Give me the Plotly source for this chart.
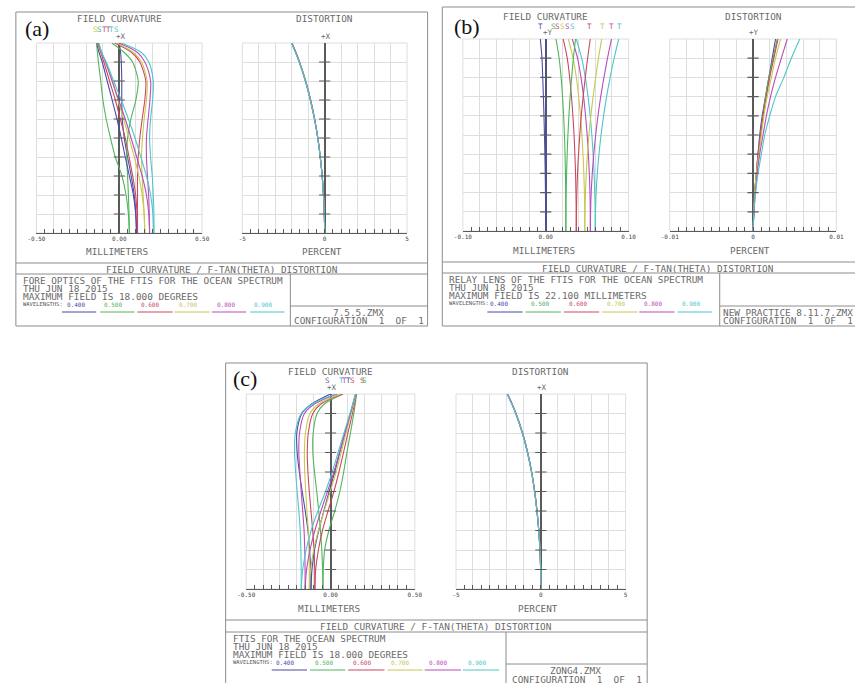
import plotly.graph_objects as go

W, H = 863, 683

WAVELENGTHS = ["0.400", "0.500", "0.600", "0.700", "0.800", "0.900"]
COLORS = ["#4b4ba8", "#4fb55a", "#c9485e", "#c8c850", "#b94db9", "#4cc6cc"]

# ---------------- panel (a) : fore optics (mm, field normalised 0..1) --------------
FIELD_A = [0.0, 0.1, 0.2, 0.3, 0.4, 0.5, 0.6, 0.7, 0.8, 0.9, 0.95, 1.0]
A_SAG = [
    [0.105, 0.100, 0.090, 0.072, 0.050, 0.030, 0.018, 0.015, 0.015, 0.012, 0.008, 0.000],
    [0.061, 0.059, 0.055, 0.050, 0.045, 0.050, 0.070, 0.100, 0.114, 0.080, 0.030, -0.045],
    [0.110, 0.110, 0.110, 0.110, 0.114, 0.124, 0.138, 0.154, 0.160, 0.124, 0.075, -0.028],
    [0.154, 0.150, 0.144, 0.138, 0.134, 0.140, 0.150, 0.164, 0.168, 0.134, 0.085, -0.014],
    [0.183, 0.181, 0.177, 0.170, 0.164, 0.164, 0.174, 0.185, 0.189, 0.154, 0.110, 0.000],
    [0.209, 0.209, 0.205, 0.199, 0.189, 0.183, 0.189, 0.201, 0.205, 0.178, 0.134, 0.012],
]
A_TAN = [
    [0.105, 0.099, 0.085, 0.061, 0.036, 0.012, -0.014, -0.043, -0.073, -0.103, -0.122, -0.138],
    [0.061, 0.055, 0.041, 0.016, -0.024, -0.053, -0.079, -0.099, -0.112, -0.126, -0.132, -0.138],
    [0.110, 0.107, 0.099, 0.081, 0.059, 0.036, 0.006, -0.024, -0.059, -0.093, -0.112, -0.132],
    [0.154, 0.150, 0.138, 0.118, 0.091, 0.059, 0.026, -0.008, -0.043, -0.083, -0.107, -0.126],
    [0.183, 0.178, 0.164, 0.138, 0.105, 0.071, 0.036, -0.004, -0.043, -0.083, -0.107, -0.126],
    [0.209, 0.203, 0.189, 0.164, 0.130, 0.095, 0.055, 0.012, -0.034, -0.079, -0.107, -0.122],
]
A_DIST = [
    [0.0, -0.02, -0.07, -0.15, -0.27, -0.42, -0.62, -0.87, -1.17, -1.55, -1.77, -2.02],
    [0.0, -0.02, -0.07, -0.15, -0.27, -0.42, -0.62, -0.87, -1.17, -1.54, -1.76, -2.01],
    [0.0, -0.02, -0.07, -0.15, -0.27, -0.42, -0.62, -0.86, -1.16, -1.54, -1.76, -2.00],
    [0.0, -0.02, -0.07, -0.15, -0.27, -0.42, -0.61, -0.86, -1.16, -1.53, -1.75, -2.00],
    [0.0, -0.02, -0.07, -0.15, -0.27, -0.41, -0.61, -0.86, -1.16, -1.53, -1.75, -1.99],
    [0.0, -0.02, -0.07, -0.15, -0.26, -0.41, -0.61, -0.85, -1.15, -1.53, -1.74, -1.99],
]

# ---------------- panel (b) : relay lens -------------------------------------------
FIELD_B = [0.0, 0.1, 0.2, 0.3, 0.4, 0.5, 0.6, 0.7, 0.8, 0.9, 1.0]
B_SAG = [
    [0.0003, 0.0003, 0.0003, 0.0003, 0.0003, 0.0003, 0.0003, 0.0003, 0.0003, 0.0003, 0.0003],
    [0.0243, 0.0243, 0.0241, 0.0238, 0.0233, 0.0226, 0.0216, 0.0203, 0.0186, 0.0162, 0.0124],
    [0.0369, 0.0368, 0.0365, 0.0360, 0.0352, 0.0342, 0.0328, 0.0311, 0.0289, 0.0260, 0.0211],
    [0.0472, 0.0471, 0.0467, 0.0460, 0.0450, 0.0437, 0.0420, 0.0398, 0.0370, 0.0330, 0.0274],
    [0.0539, 0.0538, 0.0534, 0.0526, 0.0515, 0.0500, 0.0481, 0.0457, 0.0426, 0.0384, 0.0321],
    [0.0598, 0.0597, 0.0592, 0.0584, 0.0572, 0.0557, 0.0537, 0.0511, 0.0478, 0.0434, 0.0369],
]
B_TAN = [
    [0.0000, -0.0001, -0.0003, -0.0006, -0.0010, -0.0015, -0.0021, -0.0028, -0.0036, -0.0045, -0.0065],
    [0.0243, 0.0244, 0.0247, 0.0252, 0.0259, 0.0268, 0.0280, 0.0295, 0.0313, 0.0334, 0.0360],
    [0.0369, 0.0371, 0.0376, 0.0384, 0.0396, 0.0411, 0.0429, 0.0452, 0.0478, 0.0506, 0.0538],
    [0.0472, 0.0474, 0.0480, 0.0490, 0.0504, 0.0522, 0.0545, 0.0572, 0.0603, 0.0637, 0.0676],
    [0.0539, 0.0542, 0.0549, 0.0562, 0.0580, 0.0603, 0.0631, 0.0664, 0.0703, 0.0746, 0.0794],
    [0.0598, 0.0601, 0.0609, 0.0623, 0.0643, 0.0668, 0.0699, 0.0735, 0.0778, 0.0826, 0.0881],
]
B_DIST = [
    [0.0, 0.0001, 0.0003, 0.0006, 0.0010, 0.0014, 0.0020, 0.0027, 0.0037, 0.0046, 0.0056],
    [0.0, 0.0001, 0.0003, 0.0005, 0.0008, 0.0012, 0.0016, 0.0021, 0.0027, 0.0034, 0.0041],
    [0.0, 0.0001, 0.0002, 0.0004, 0.0007, 0.0010, 0.0013, 0.0017, 0.0022, 0.0027, 0.0033],
    [0.0, 0.0001, 0.0002, 0.0004, 0.0006, 0.0009, 0.0012, 0.0016, 0.0020, 0.0025, 0.0030],
    [0.0, 0.0001, 0.0002, 0.0004, 0.0006, 0.0009, 0.0012, 0.0015, 0.0019, 0.0024, 0.0029],
    [0.0, 0.0001, 0.0002, 0.0004, 0.0006, 0.0008, 0.0011, 0.0015, 0.0019, 0.0023, 0.0027],
]

# ---------------- panel (c) : whole system -----------------------------------------
FIELD_C = [0.0, 0.1, 0.2, 0.3, 0.4, 0.5, 0.6, 0.7, 0.8, 0.9, 0.95, 1.0]
C_SAG = [
    [-0.116, -0.118, -0.124, -0.134, -0.150, -0.168, -0.185, -0.198, -0.200, -0.170, -0.110, 0.000],
    [-0.045, -0.047, -0.052, -0.060, -0.070, -0.082, -0.095, -0.105, -0.103, -0.080, -0.035, 0.075],
    [-0.093, -0.094, -0.098, -0.106, -0.116, -0.126, -0.134, -0.138, -0.132, -0.105, -0.055, 0.070],
    [-0.126, -0.126, -0.128, -0.132, -0.140, -0.147, -0.153, -0.155, -0.149, -0.122, -0.068, 0.060],
    [-0.151, -0.151, -0.153, -0.157, -0.165, -0.174, -0.182, -0.188, -0.184, -0.155, -0.093, 0.040],
    [-0.174, -0.174, -0.176, -0.180, -0.188, -0.198, -0.207, -0.213, -0.209, -0.174, -0.107, 0.030],
]
C_TAN = [
    [-0.116, -0.110, -0.095, -0.070, -0.040, -0.008, 0.025, 0.055, 0.085, 0.118, 0.133, 0.148],
    [-0.045, -0.043, -0.035, -0.010, 0.025, 0.055, 0.078, 0.097, 0.118, 0.138, 0.147, 0.155],
    [-0.093, -0.088, -0.072, -0.048, -0.015, 0.020, 0.050, 0.077, 0.103, 0.130, 0.142, 0.153],
    [-0.126, -0.118, -0.100, -0.072, -0.038, -0.002, 0.033, 0.063, 0.092, 0.122, 0.137, 0.152],
    [-0.151, -0.142, -0.122, -0.093, -0.057, -0.018, 0.020, 0.053, 0.085, 0.118, 0.134, 0.150],
    [-0.174, -0.165, -0.145, -0.115, -0.075, -0.030, 0.010, 0.045, 0.080, 0.115, 0.132, 0.148],
]
C_DIST = [
    [0.0, -0.01, -0.05, -0.12, -0.23, -0.37, -0.55, -0.79, -1.09, -1.48, -1.72, -1.99],
    [0.0, -0.01, -0.05, -0.12, -0.23, -0.37, -0.55, -0.79, -1.09, -1.48, -1.71, -1.98],
    [0.0, -0.01, -0.05, -0.12, -0.23, -0.37, -0.55, -0.78, -1.08, -1.47, -1.71, -1.98],
    [0.0, -0.01, -0.05, -0.12, -0.23, -0.36, -0.54, -0.78, -1.08, -1.47, -1.70, -1.97],
    [0.0, -0.01, -0.05, -0.12, -0.22, -0.36, -0.54, -0.78, -1.08, -1.47, -1.70, -1.97],
    [0.0, -0.01, -0.05, -0.12, -0.22, -0.36, -0.54, -0.77, -1.07, -1.46, -1.70, -1.96],
]

AXIS_TICK_FIELDS = [0.1, 0.2, 0.3, 0.4, 0.5, 0.6, 0.7, 0.8, 0.9]

MONO = "DejaVu Sans Mono"
TXT = "#6a6a6a"
AX = "#5a5a5a"
GRID = "#dedede"
FRAME = "#8c8c8c"

fig = go.Figure()
state = {"n": 0}


def X(px):
    return px / W


def Y(py):
    return 1 - py / H


def add_axes(x0, x1, y0, y1, xmax, major, minor, labels):
    state["n"] += 1
    n = state["n"]
    sfx = "" if n == 1 else str(n)
    nmaj = round(2 * xmax / major)
    tickvals = [-xmax + i * major for i in range(nmaj + 1)]
    ticktext = [""] * (nmaj + 1)
    ticktext[0], ticktext[nmaj // 2], ticktext[-1] = labels
    nmin = round(2 * xmax / minor)
    minorvals = [-xmax + i * minor for i in range(nmin + 1)]
    fig.update_layout(**{
        "xaxis" + sfx: dict(
            domain=[X(x0), X(x1)], anchor="y" + sfx, range=[-xmax, xmax],
            tickmode="array", tickvals=tickvals, ticktext=ticktext,
            ticks="inside", ticklen=4, tickwidth=1, tickcolor=AX,
            showgrid=True, gridcolor=GRID, gridwidth=1,
            zeroline=True, zerolinecolor=AX, zerolinewidth=1.6,
            showline=True, linecolor=AX, linewidth=1.2,
            tickfont=dict(family=MONO, size=6, color="#444"),
            minor=dict(tickmode="array", tickvals=minorvals, ticks="inside",
                       ticklen=4, tickwidth=1, tickcolor=AX, showgrid=False),
            fixedrange=True),
        "yaxis" + sfx: dict(
            domain=[Y(y1), Y(y0)], anchor="x" + sfx, range=[0, 1],
            tickmode="linear", tick0=0, dtick=0.1, showgrid=True,
            gridcolor=GRID, gridwidth=1, showticklabels=False, ticks="",
            zeroline=False, showline=False, fixedrange=True),
    })
    fig.add_shape(type="rect", xref="x" + sfx + " domain", yref="y" + sfx + " domain",
                  x0=0, x1=1, y0=0, y1=1, line=dict(color=GRID, width=1), layer="below")
    return "x" + sfx, "y" + sfx


def add_curves(xa, ya, field, series_list):
    for series in series_list:
        for vals, col in zip(series, COLORS):
            fig.add_trace(go.Scatter(
                x=vals, y=field, mode="lines", xaxis=xa, yaxis=ya,
                line=dict(color=col, width=1.1, shape="spline", smoothing=0.8),
                hoverinfo="skip", showlegend=False))


def add_axis_ticks(xa, ya):
    fig.add_trace(go.Scatter(
        x=[0] * len(AXIS_TICK_FIELDS), y=AXIS_TICK_FIELDS, mode="markers",
        xaxis=xa, yaxis=ya,
        marker=dict(symbol="line-ew", size=8, line=dict(width=1.2, color=AX)),
        hoverinfo="skip", showlegend=False))


def txt(s, x, y, size=9.4, color=TXT, xanchor="center", family=MONO):
    fig.add_annotation(text=s, x=X(x), y=Y(y), xref="paper", yref="paper",
                       xanchor=xanchor, yanchor="middle", showarrow=False,
                       borderpad=0,
                       font=dict(family=family, size=size, color=color))


def hline(x0, x1, y, color=FRAME, width=1):
    fig.add_shape(type="line", xref="paper", yref="paper",
                  x0=X(x0), x1=X(x1), y0=Y(y), y1=Y(y),
                  line=dict(color=color, width=width))


def vline(x, y0, y1, color=FRAME, width=1):
    fig.add_shape(type="line", xref="paper", yref="paper",
                  x0=X(x), x1=X(x), y0=Y(y0), y1=Y(y1),
                  line=dict(color=color, width=width))


def panel(frame, fc, di, fc_max, fc_major, fc_minor, fc_labels,
          di_max, di_major, di_minor, di_labels, field, sag, tan, dist,
          axis_name, unit_y, title_y, bar, info, info_y, wl_xc, wl_line,
          wl_line_y, divider_x, box_y, zmx, zmx_x, zmx_anchor, letter, letter_xy,
          legend, legend_y):
    fl, ft, fr, fb = frame
    hline(fl, fr, ft)
    vline(fl, ft, fb)
    if fr < W - 1:
        vline(fr, ft, fb)
    if fb < H - 1:
        hline(fl, fr, fb)
    hline(fl, fr, bar[0])
    hline(fl, fr, bar[1])
    vline(divider_x, bar[1], fb)
    hline(divider_x, fr, box_y)

    xa, ya = add_axes(*fc, fc_max, fc_major, fc_minor, fc_labels)
    add_curves(xa, ya, field, [sag, tan])
    add_axis_ticks(xa, ya)
    xb, yb = add_axes(*di, di_max, di_major, di_minor, di_labels)
    add_curves(xb, yb, field, [list(reversed(dist))])
    add_axis_ticks(xb, yb)

    cfc = (fc[0] + fc[1]) / 2
    cdi = (di[0] + di[1]) / 2
    txt("FIELD CURVATURE", cfc, title_y)
    txt("DISTORTION", cdi, title_y)
    txt("+" + axis_name, cfc + 2, fc[2] - 7, size=7.5)
    txt("+" + axis_name, cdi + 1, di[2] - 7, size=7.5)
    txt("MILLIMETERS", cfc - 2, unit_y)
    txt("PERCENT", cdi - 3, unit_y)
    for s, lx, col in legend:
        txt(s, lx, legend_y, size=7.5, color=col)

    txt("FIELD CURVATURE / F-TAN(THETA) DISTORTION", (fl + fr) / 2 + bar[2],
        (bar[0] + bar[1]) / 2 + 0.5)
    for i, line in enumerate(info):
        txt(line, fl + 6, info_y[i], xanchor="left")
    txt("WAVELENGTHS:", fl + 6, info_y[3], size=5.5, color="#555", xanchor="left")
    for lab, xc, (lx0, lx1), col in zip(WAVELENGTHS, wl_xc, wl_line, COLORS):
        txt(lab, xc, info_y[3], size=6, color=col)
        hline(lx0, lx1, wl_line_y, color=col, width=1)
    txt(zmx, zmx_x, box_y + 6.5, xanchor=zmx_anchor)
    txt("CONFIGURATION  1  OF  1", zmx_x if zmx_anchor == "left" else (divider_x + fr) / 2,
        box_y + 15, xanchor=zmx_anchor)
    txt(letter, letter_xy[0], letter_xy[1], size=22, color="#111",
        family="Liberation Serif")


# (a)
panel((7, 12, 427, 326), (28, 197, 43, 233), (238, 406, 43, 233),
      0.5, 0.1, 0.05, ["-0.50", "0.00", "0.50"], 5, 1, 0.5, ["-5", "0", "5"],
      FIELD_A, A_SAG, A_TAN, A_DIST, "X", 251, 19, (263, 274, 0),
      ["FORE OPTICS OF THE FTIS FOR THE OCEAN SPECTRUM", "THU JUN 18 2015",
       "MAXIMUM FIELD IS 18.000 DEGREES"], [280, 288, 296, 304],
      [68, 106, 144, 183, 221, 259],
      [(54, 89), (93, 128), (131, 167), (169, 205), (207, 242), (246, 281)], 312,
      287, 306, "7.5.5.ZMX", 357, "center", "(a)", (29, 28),
      [("S", 88, "#c8c850"), ("S", 92, "#4fb55a"), ("T", 97, "#b94db9"),
       ("T", 101, "#c9485e"), ("T", 105, "#4cc6cc"), ("S", 110, "#4cc6cc")], 30)

# (b)
panel((442, 7, 863, 326), (463, 632, 39, 231), (674, 844, 39, 231),
      0.1, 0.02, 0.01, ["-0.10", "0.00", "0.10"], 0.01, 0.002, 0.001, ["-0.01", "0", "0.01"],
      FIELD_B, B_SAG, B_TAN, B_DIST, "Y", 250, 16, (262, 273, 10),
      ["RELAY LENS OF THE FTIS FOR THE OCEAN SPECTRUM", "THU JUN 18 2015",
       "MAXIMUM FIELD IS 22.100 MILLIMETERS"], [279, 287, 295, 303],
      [500, 542, 580, 619, 657, 696],
      [(488, 524), (527, 563), (566, 602), (605, 641), (643, 679), (682, 717)], 312,
      725, 306, "NEW PRACTICE 8.11.7.ZMX", 727, "left", "(b)", (467, 27),
      [("T", 542, "#4b4ba8"), ("S", 555, "#4fb55a"), ("S", 560, "#c9485e"),
       ("S", 565, "#c8c850"), ("S", 570, "#b94db9"), ("S", 575, "#4cc6cc"),
       ("T", 592, "#c9485e"), ("T", 605, "#c8c850"), ("T", 615, "#b94db9"),
       ("T", 623, "#4cc6cc")], 26)

# (c)
panel((221, 363, 651, 690), (242, 414, 394, 589), (456, 629, 394, 589),
      0.5, 0.1, 0.05, ["-0.50", "0.00", "0.50"], 5, 1, 0.5, ["-5", "0", "5"],
      FIELD_C, C_SAG, C_TAN, C_DIST, "X", 608, 371, (620, 632, 0),
      ["FTIS FOR THE OCEAN SPECTRUM", "THU JUN 18 2015",
       "MAXIMUM FIELD IS 18.000 DEGREES"], [638, 646, 654, 662],
      [282, 321, 360, 399, 438, 477],
      [(268, 304), (307, 343), (346, 383), (386, 422), (424, 461), (463, 500)], 670,
      507, 664, "ZONG4.ZMX", 578, "center", "(c)", (241, 378),
      [("S", 325, "#6a6a8a"), ("T", 339, "#4cc6cc"), ("T", 342, "#b94db9"),
       ("T", 346, "#4b4ba8"), ("S", 350, "#c9485e"), ("S", 361, "#c9485e"),
       ("S", 363, "#4fb55a")], 380)

fig.update_layout(width=W, height=H, margin=dict(l=0, r=0, t=0, b=0),
                  paper_bgcolor="white", plot_bgcolor="white", showlegend=False)

fig.write_html(
    "out.html",
    config={"responsive": False, "displayModeBar": False},
    post_script="document.body.style.margin='0px';document.body.style.overflow='hidden';",
)
